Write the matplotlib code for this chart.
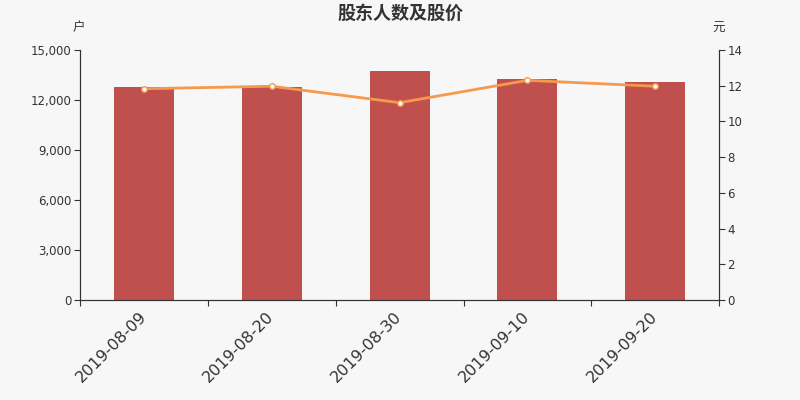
import matplotlib.pyplot as plt
import numpy as np
from matplotlib.ticker import FuncFormatter, FixedLocator

plt.rcParams['font.family'] = ['DejaVu Sans', 'Noto Sans CJK SC']

dates = ["2019-08-09", "2019-08-20", "2019-08-30", "2019-09-10", "2019-09-20"]
holders = [12780, 12780, 13740, 13240, 13080]
price = [11.83, 11.97, 11.05, 12.30, 11.97]

bg = "#f7f7f7"
textc = "#333333"
cjk = ['Noto Sans CJK SC', 'DejaVu Sans']

fig = plt.figure(figsize=(8, 4), dpi=100, facecolor=bg)
ax = fig.add_axes([0.1, 0.25, 0.799, 0.625], facecolor=bg)
x = np.arange(len(dates))
ax.bar(x, holders, width=0.47, color="#c0504d", zorder=2)
ax.set_xlim(-0.5, len(dates) - 0.5)
ax.set_ylim(0, 15000)
ax.set_yticks(np.arange(0, 15001, 3000))
ax.yaxis.set_major_formatter(FuncFormatter(lambda v, p: f"{int(v):,}"))

# ticks on category boundaries, labels at centers
ax.xaxis.set_major_locator(FixedLocator(np.arange(-0.5, len(dates), 1.0)))
ax.xaxis.set_major_formatter(FuncFormatter(lambda v, p: ""))
ax.xaxis.set_minor_locator(FixedLocator(x))
ax.set_xticklabels(dates, minor=True, rotation=45, ha="right", va="center",
                   rotation_mode="anchor", fontsize=11.5, color=textc)
ax.tick_params(axis="x", which="minor", length=0, pad=10)
ax.tick_params(axis="x", which="major", length=4, color=textc)
ax.tick_params(axis="y", labelsize=8.5, colors=textc, length=4, pad=2)

ax.spines["top"].set_visible(False)
for s in ["left", "bottom", "right"]:
    ax.spines[s].set_color(textc)

ax2 = ax.twinx()
ax2.plot(x, price, color="#f5994e", linewidth=2, marker="o", markersize=4,
         markerfacecolor="white", markeredgecolor="#f5994e", markeredgewidth=1, zorder=3)
ax2.set_ylim(0, 14)
ax2.set_yticks(np.arange(0, 15, 2))
ax2.tick_params(axis="y", labelsize=8.5, colors=textc, length=4, pad=2)
ax2.spines["top"].set_visible(False)
for s in ["left", "bottom", "right"]:
    ax2.spines[s].set_color(textc)

fig.text(0.5, 0.967, "股东人数及股价", ha="center", va="center", fontsize=13,
         fontweight="bold", color=textc, family=cjk)
fig.text(0.098, 0.93, "户", ha="center", va="center", fontsize=9, color=textc, family=cjk)
fig.text(0.898, 0.93, "元", ha="center", va="center", fontsize=9, color=textc, family=cjk)

fig.savefig("out.png", dpi=100, facecolor=bg)
